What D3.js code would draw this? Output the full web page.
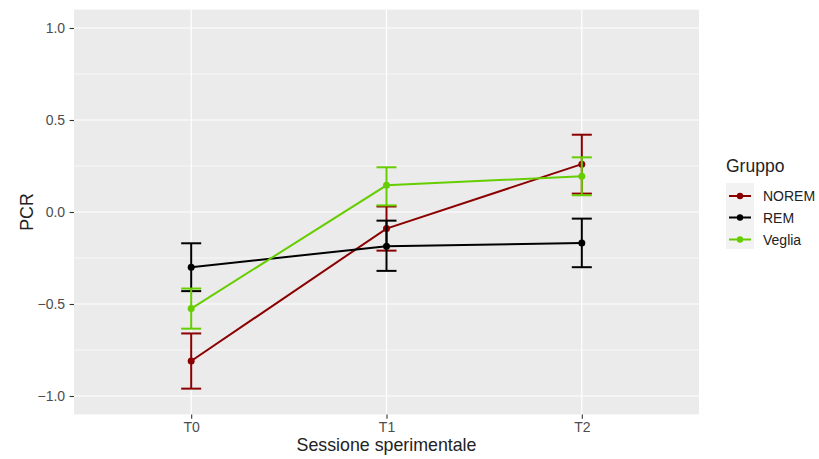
<!DOCTYPE html>
<html>
<head>
<meta charset="utf-8">
<script src="https://cdn.jsdelivr.net/npm/d3@7"></script>
<style>
  body { margin: 0; background: #fff; }
  text { font-family: Arial, "Liberation Sans", sans-serif; }
</style>
</head>
<body>
<svg id="chart" width="819" height="459"></svg>
<script>
// sessions on the x axis
const sessions = ["T0", "T1", "T2"];
const groups = ["NOREM", "REM", "Veglia"];
const groupColors = ["#8B0000", "#000000", "#66CD00"];

// means and error bar bounds per group, one value per session
const noremMean = [-0.81, -0.09, 0.26];
const noremLow  = [-0.96, -0.21, 0.10];
const noremHigh = [-0.66, 0.03, 0.42];

const remMean = [-0.30, -0.186, -0.168];
const remLow  = [-0.43, -0.32, -0.30];
const remHigh = [-0.17, -0.047, -0.036];

const vegliaMean = [-0.525, 0.145, 0.194];
const vegliaLow  = [-0.634, 0.036, 0.091];
const vegliaHigh = [-0.416, 0.243, 0.297];

const yTicks = [-1.0, -0.5, 0.0, 0.5, 1.0];
const yMinor = [-0.75, -0.25, 0.25, 0.75];

// build tidy rows
function rows(name, mean, low, high){
    return sessions.map((s,i) => ({group:name, session:s, mean:mean[i], low:low[i], high:high[i]}));
}
const series = [
    {name:"NOREM", values:rows("NOREM", noremMean, noremLow, noremHigh)},
    {name:"REM", values:rows("REM", remMean, remLow, remHigh)},
    {name:"Veglia", values:rows("Veglia", vegliaMean, vegliaLow, vegliaHigh)}
];

const svg = d3.select("#chart");
const panel = {left:74, right:699, top:9.6, bottom:414.4};

const color = d3.scaleOrdinal().domain(groups).range(groupColors);

const x = d3.scalePoint().domain(sessions).range([panel.left, panel.right]).padding(0.6);
const y = d3.scaleLinear().domain([-1.1, 1.1]).range([panel.bottom, panel.top]);

// panel background
svg.append("rect")
    .attr("x", panel.left).attr("y", panel.top)
    .attr("width", panel.right - panel.left).attr("height", panel.bottom - panel.top)
    .attr("fill", "#EBEBEB");

// minor grid
svg.append("g").selectAll("line").data(yMinor).join("line")
    .attr("x1", panel.left).attr("x2", panel.right)
    .attr("y1", d => y(d)).attr("y2", d => y(d))
    .attr("stroke", "#fff").attr("stroke-width", 0.6);

// major grid
svg.append("g").selectAll("line").data(yTicks).join("line")
    .attr("x1", panel.left).attr("x2", panel.right)
    .attr("y1", d => y(d)).attr("y2", d => y(d))
    .attr("stroke", "#fff").attr("stroke-width", 1.2);
svg.append("g").selectAll("line").data(sessions).join("line")
    .attr("x1", d => x(d)).attr("x2", d => x(d))
    .attr("y1", panel.top).attr("y2", panel.bottom)
    .attr("stroke", "#fff").attr("stroke-width", 1.2);

// axes
const yAxis = svg.append("g")
    .attr("transform", `translate(${panel.left},0)`)
    .call(d3.axisLeft(y).tickValues(yTicks).tickFormat(d3.format(".1f")).tickSize(4.4).tickPadding(4.5));
const xAxis = svg.append("g")
    .attr("transform", `translate(0,${panel.bottom})`)
    .call(d3.axisBottom(x).tickSize(4.4).tickPadding(3.5));
[yAxis, xAxis].forEach(a => {
    a.attr("font-size", null).attr("font-family", null);
    a.select(".domain").remove();
    a.selectAll(".tick line").attr("stroke", "#333").attr("stroke-width", 1.1);
    a.selectAll(".tick text").attr("fill", "#4D4D4D").attr("font-size", 14).style("font-size", "14px");
});
yAxis.selectAll(".tick text").text(d => d3.format(".1f")(d).replace("-", "\u2212"));

// series
const line = d3.line().x(d => x(d.session)).y(d => y(d.mean));
const capHalf = 10;

series.forEach(s => {
    const g = svg.append("g");
    const c = color(s.name);
    g.append("path").datum(s.values)
        .attr("d", line).attr("fill", "none")
        .attr("stroke", c).attr("stroke-width", 2);
    const eb = g.selectAll(".eb").data(s.values).join("g");
    eb.append("line")
        .attr("x1", d => x(d.session)).attr("x2", d => x(d.session))
        .attr("y1", d => y(d.low)).attr("y2", d => y(d.high))
        .attr("stroke", c).attr("stroke-width", 2);
    eb.append("line")
        .attr("x1", d => x(d.session) - capHalf).attr("x2", d => x(d.session) + capHalf)
        .attr("y1", d => y(d.low)).attr("y2", d => y(d.low))
        .attr("stroke", c).attr("stroke-width", 2);
    eb.append("line")
        .attr("x1", d => x(d.session) - capHalf).attr("x2", d => x(d.session) + capHalf)
        .attr("y1", d => y(d.high)).attr("y2", d => y(d.high))
        .attr("stroke", c).attr("stroke-width", 2);
    g.selectAll("circle").data(s.values).join("circle")
        .attr("cx", d => x(d.session)).attr("cy", d => y(d.mean))
        .attr("r", 3.5).attr("fill", c);
});

// axis titles
svg.append("text")
    .attr("x", (panel.left + panel.right) / 2).attr("y", 451)
    .attr("text-anchor", "middle").attr("fill", "#222")
    .style("font-size", "17.8px").text("Sessione sperimentale");
svg.append("text")
    .attr("transform", `translate(33,${(panel.top + panel.bottom) / 2}) rotate(-90)`)
    .attr("text-anchor", "middle").attr("fill", "#222")
    .style("font-size", "17.8px").text("PCR");

// legend
const legend = svg.append("g").attr("transform", "translate(726,0)");
legend.append("text").attr("x", 0).attr("y", 172)
    .attr("fill", "#222").style("font-size", "17.5px").text("Gruppo");
const keyY = [196, 217.5, 239.5];
legend.append("rect").attr("x", 0).attr("y", 183).attr("width", 28).attr("height", 66)
    .attr("fill", "#F2F2F2");
groups.forEach((gname, i) => {
    const k = legend.append("g").attr("transform", `translate(0,${keyY[i]})`);
    k.append("line").attr("x1", 3).attr("x2", 25).attr("stroke", color(gname)).attr("stroke-width", 2);
    k.append("circle").attr("cx", 14).attr("r", 3.2).attr("fill", color(gname));
    k.append("text").attr("x", 37).attr("y", 5)
        .attr("fill", "#222").style("font-size", "14px").text(gname);
});
</script>
</body>
</html>
